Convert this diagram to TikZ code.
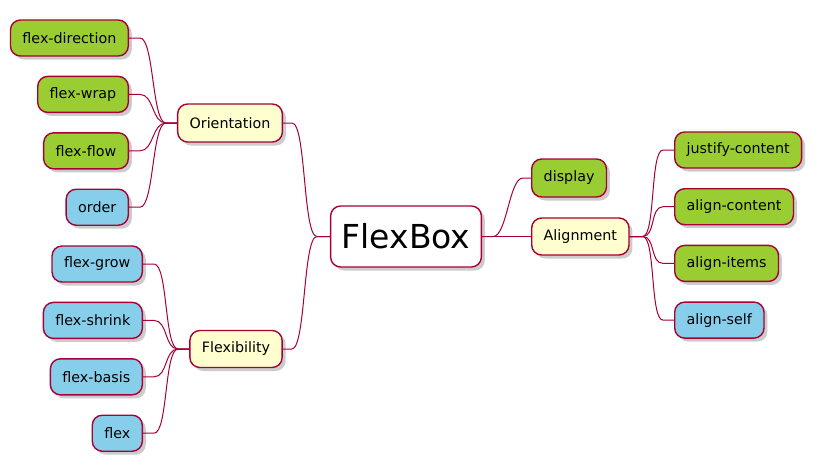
\documentclass[tikz,border=0pt]{standalone}
\usepackage{fontspec}
\setmainfont{DejaVu Sans}
\usepackage{tikz}
\usetikzlibrary{positioning, shadows}
\definecolor{mmborder}{HTML}{A80036}
\definecolor{mmgreen}{HTML}{9ACD32}
\definecolor{mmblue}{HTML}{87CEEB}
\definecolor{mmyellow}{HTML}{FEFECE}

\begin{document}
\begin{tikzpicture}[
    x=1pt, y=1pt,
    box/.style = {draw=mmborder, line width=1.4pt, fill=#1, rounded corners=10pt,
                  minimum height=36pt, inner xsep=12pt, inner ysep=0pt,
                  font=\fontsize{14.3}{16}\selectfont,
                  drop shadow={shadow xshift=3.5pt, shadow yshift=-3.5pt, opacity=0.4}},
    box/.default = mmgreen
    ]
            % styles
            \tikzstyle{link} = [line width=1pt, draw=mmborder]

            \useasboundingbox (0,0) rectangle (817,-469);

            \node (flexbox) [box=white, minimum height=61pt, inner xsep=11pt, font=\fontsize{33}{40}\selectfont] at (406,-236.5) {FlexBox};
            \node (orient) [box=mmyellow, minimum height=38pt] at (230,-123) {Orientation};
            \node (flexi) [box=mmyellow, minimum height=37pt] at (236,-349) {Flexibility};
            \node (display) [box, minimum height=38pt, anchor=west] at (531,-178) {display};
            \node (align) [box=mmyellow, minimum height=37pt, anchor=west] at (531,-236.5) {Alignment};

            % orientation
            \node (fdir) [box, anchor=east] at (129,-38) {flex-direction};
            \node (fwrap) [box, below=19pt of fdir.south east, anchor=north east] {flex-wrap};
            \node (fflow) [box, below=19pt of fwrap.south east, anchor=north east] {flex-flow};
            \node (order) [box=mmblue, below=19pt of fflow.south east, anchor=north east] {order};

            % flexibility
            \node (fgrow) [box=mmblue, anchor=east] at (143,-264) {flex-grow};
            \node (fshrink) [box=mmblue, below=19pt of fgrow.south east, anchor=north east] {flex-shrink};
            \node (fbasis) [box=mmblue, below=19pt of fshrink.south east, anchor=north east] {flex-basis};
            \node (flex) [box=mmblue, below=19pt of fbasis.south east, anchor=north east] {flex};

            % alignment
            \node (justc) [box, anchor=west] at (674,-150) {justify-content};
            \node (alignc) [box, below=19.3pt of justc.south west, anchor=north west] {align-content};
            \node (aligni) [box, below=19.3pt of alignc.south west, anchor=north west] {align-items};
            \node (aligns) [box=mmblue, below=19.3pt of aligni.south west, anchor=north west] {align-self};

            \draw [link] (flexbox.west) -- ++(-13pt,0) to[out=180, in=0, distance=14pt] ([xshift=9pt]orient.east) -- (orient.east);
            \draw [link] (flexbox.west) -- ++(-13pt,0) to[out=180, in=0, distance=14pt] ([xshift=9pt]flexi.east) -- (flexi.east);
            \draw [link] (flexbox.east) -- ++(11pt,0) to[out=0, in=180, distance=14pt] ([xshift=-8pt]display.west) -- (display.west);
            \draw [link] (flexbox.east) -- (align.west);

            \foreach \leaf in {fdir, fwrap, fflow, order}
                \draw [link] (orient.west) -- ++(-11pt,0) to[out=180, in=0, distance=14pt] ([xshift=11pt]\leaf.east) -- (\leaf.east);
            \foreach \leaf in {fgrow, fshrink, fbasis, flex}
                \draw [link] (flexi.west) -- ++(-11pt,0) to[out=180, in=0, distance=14pt] ([xshift=11pt]\leaf.east) -- (\leaf.east);
            \foreach \leaf in {justc, alignc, aligni, aligns}
                \draw [link] (align.east) -- ++(13pt,0) to[out=0, in=180, distance=13pt] ([xshift=-11pt]\leaf.west) -- (\leaf.west);
    \end{tikzpicture}
\end{document}
